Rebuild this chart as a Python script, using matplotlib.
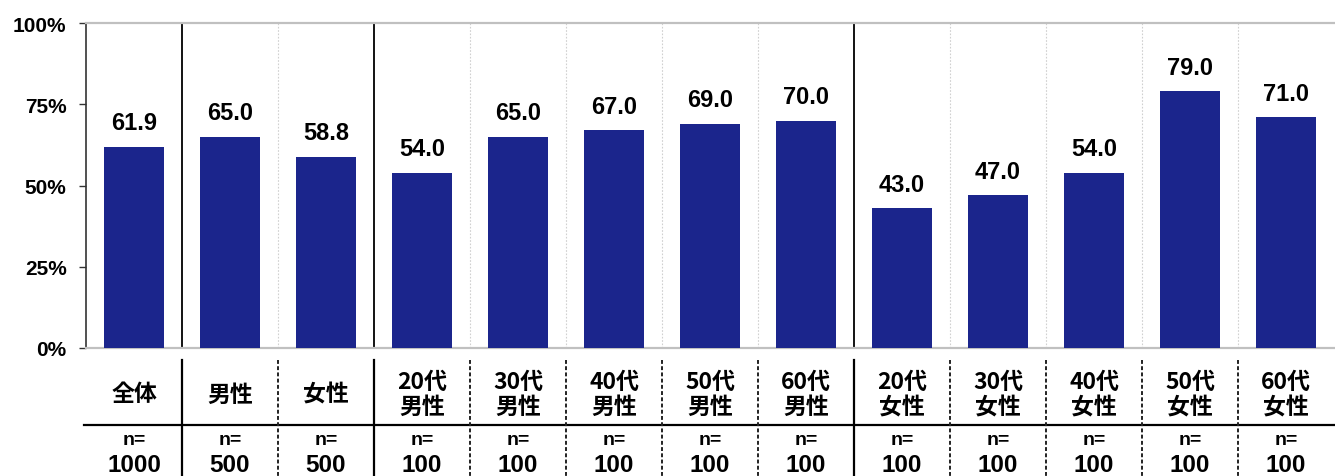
import numpy as np
import matplotlib
matplotlib.use("Agg")
import matplotlib.pyplot as plt
from matplotlib.transforms import blended_transform_factory

plt.rcParams['font.family'] = ['Noto Sans CJK JP', 'DejaVu Sans']

labels = ["全体", "男性", "女性", "20代\n男性", "30代\n男性", "40代\n男性", "50代\n男性", "60代\n男性",
          "20代\n女性", "30代\n女性", "40代\n女性", "50代\n女性", "60代\n女性"]
values = [61.9, 65.0, 58.8, 54.0, 65.0, 67.0, 69.0, 70.0, 43.0, 47.0, 54.0, 79.0, 71.0]
n_sizes = [1000, 500, 500, 100, 100, 100, 100, 100, 100, 100, 100, 100, 100]
group_breaks = [1, 3, 8]   # solid separators before these indices
yticks = [0, 25, 50, 75, 100]

W, H = 1335, 477
fig = plt.figure(figsize=(W / 100, H / 100), dpi=100)
ax = fig.add_axes([86 / W, (H - 349) / H, (1334 - 86) / W, (349 - 24) / H])

x = np.arange(len(values))
ax.bar(x, values, width=0.63, color='#1B258C', zorder=3)
ax.set_xlim(-0.5, len(values) - 0.5)
ax.set_ylim(0, 100)

num_font = ['Liberation Sans', 'DejaVu Sans']
for i, v in zip(x, values):
    ax.annotate(f"{v:.1f}", (i, v), xytext=(0, 9), textcoords='offset points',
                ha='center', va='bottom', fontsize=17, fontweight='bold', family=num_font)

# vertical separators in plot area
for b in range(1, len(values)):
    if b in group_breaks:
        ax.axvline(b - 0.5, color='black', lw=1.3, zorder=2)
    else:
        ax.axvline(b - 0.5, color='#d0d0d0', lw=0.8, ls=(0, (1.5, 1.5)), zorder=2)

ax.set_yticks(yticks)
ax.set_yticklabels([f"{t}%" for t in yticks], fontsize=15, fontweight='bold', family=num_font)
ax.set_xticks([])
ax.tick_params(axis='y', length=5, width=1, color='#333333', pad=9)
ax.spines['left'].set_color('#333333')
ax.spines['left'].set_linewidth(1.2)
ax.spines['top'].set_color('#c0c0c0')
ax.spines['top'].set_linewidth(1.6)
ax.spines['bottom'].set_color('#c0c0c0')
ax.spines['bottom'].set_linewidth(1.6)
ax.spines['right'].set_visible(False)

# table under the chart
trans = blended_transform_factory(ax.transData, ax.transAxes)
ph = 349 - 24
def yf(py):
    return (349 - py) / ph

ax.plot([-0.52, len(values) - 0.5], [yf(426), yf(426)], color='black', lw=1.6,
        transform=trans, clip_on=False)
for b in range(1, len(values)):
    if b in group_breaks:
        ax.plot([b - 0.5, b - 0.5], [yf(361), yf(478)], color='black', lw=1.6,
                transform=trans, clip_on=False)
    else:
        ax.plot([b - 0.5, b - 0.5], [yf(361), yf(478)], color='#222222', lw=1.4,
                ls=(0, (2, 1.2)), transform=trans, clip_on=False)

for i, (lab, n) in enumerate(zip(labels, n_sizes)):
    ax.text(i, yf(395), lab, transform=trans, ha='center', va='center',
            fontsize=16.5, fontweight='bold', linespacing=1.12)
    ax.text(i, yf(441), "n=", transform=trans, ha='center', va='center',
            fontsize=14, fontweight='bold', family=num_font)
    ax.text(i, yf(466), str(n), transform=trans, ha='center', va='center',
            fontsize=17.5, fontweight='bold', family=num_font)

fig.savefig("out.png", dpi=100)
